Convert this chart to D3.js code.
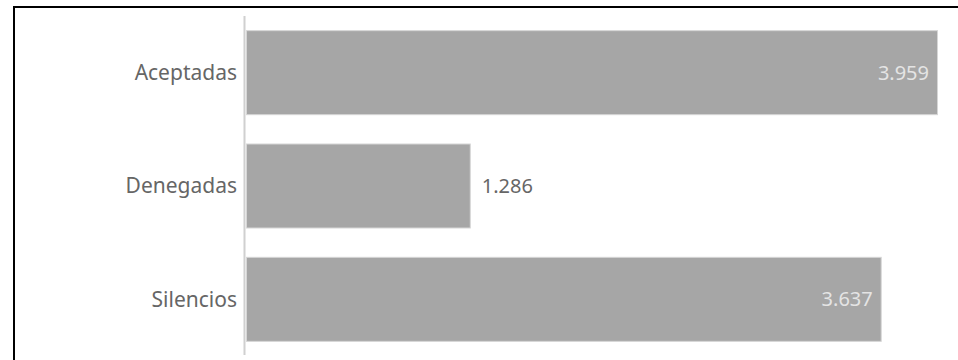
<!DOCTYPE html>
<html>
<head>
<meta charset="utf-8">
<script src="https://cdn.jsdelivr.net/npm/d3@7"></script>
<style>
  body { margin: 0; background: #fff; }
  svg { display: block; }
</style>
</head>
<body>
<script>
const categories = ["Aceptadas", "Denegadas", "Silencios"];
const values = [3959, 1286, 3637];

const width = 958, height = 360;
const svg = d3.select("body").append("svg")
    .attr("width", width)
    .attr("height", height);

// frame of the panel (cut at right and bottom)
svg.append("path")
    .attr("d", `M14,${height + 2} V7 H${width + 2}`)
    .attr("fill", "none")
    .attr("stroke", "#000")
    .attr("stroke-width", 2);

const x = d3.scaleLinear()
    .domain([0, d3.max(values)])
    .range([246, 938]);

const y = d3.scaleBand()
    .domain(categories)
    .range([16, 356])
    .paddingInner(0.25)
    .paddingOuter(0.125);

const es = d3.formatLocale({ decimal: ",", thousands: ".", grouping: [3], currency: ["", " €"] });
const fmt = es.format(",d");

const rows = categories.map((c, i) => ({ cat: c, val: values[i] }));

svg.selectAll("rect.bar")
    .data(rows)
    .join("rect")
    .attr("class", "bar")
    .attr("x", x(0) + 0.5)
    .attr("y", d => y(d.cat) + 0.5)
    .attr("width", d => x(d.val) - x(0) - 1)
    .attr("height", y.bandwidth() - 1)
    .attr("fill", "#a6a6a6")
    .attr("stroke", "#d6d6d6")
    .attr("stroke-width", 1);

// axis line
svg.append("line")
    .attr("x1", 244.5).attr("x2", 244.5)
    .attr("y1", 16).attr("y2", 355)
    .attr("stroke", "#d0d0d0")
    .attr("stroke-width", 2);

// category labels
svg.selectAll("text.cat")
    .data(rows)
    .join("text")
    .attr("class", "cat")
    .attr("x", 237)
    .attr("y", d => y(d.cat) + y.bandwidth() / 2)
    .attr("dy", "0.35em")
    .attr("text-anchor", "end")
    .attr("font-family", "Noto Sans, sans-serif")
    .attr("font-size", 21)
    .attr("fill", "#666")
    .text(d => d.cat);

// value labels: inside long bars, after short ones
svg.selectAll("text.val")
    .data(rows)
    .join("text")
    .attr("class", "val")
    .each(function (d) {
        const inside = x(d.val) - x(0) > 300;
        d3.select(this)
            .attr("x", inside ? x(d.val) - 9 : x(d.val) + 11)
            .attr("text-anchor", inside ? "end" : "start")
            .attr("fill", inside ? "#e4e4e4" : "#666");
    })
    .attr("y", d => y(d.cat) + y.bandwidth() / 2)
    .attr("dy", "0.35em")
    .attr("font-family", "Noto Sans, sans-serif")
    .attr("font-size", 20)
    .text(d => fmt(d.val));
</script>
</body>
</html>
